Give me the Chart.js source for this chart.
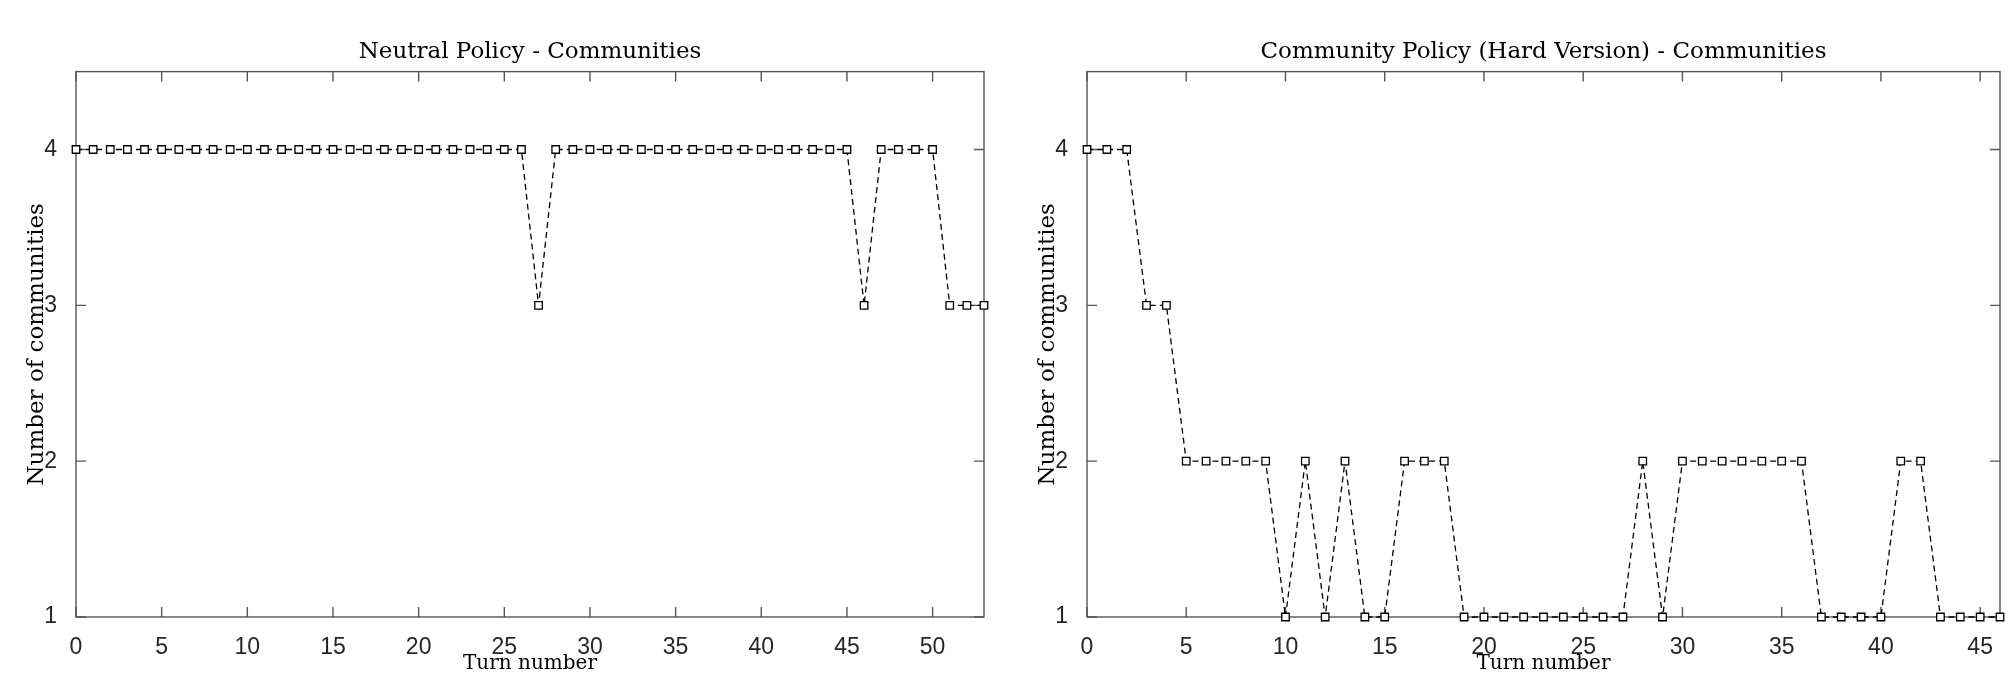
<!DOCTYPE html>
<html>
<head>
<meta charset="utf-8">
<script src="https://cdn.jsdelivr.net/npm/chart.js@4"></script>
<style>
  body { margin: 0; background: #fff; }
  .box { position: absolute; top: 0; height: 676px; }
</style>
</head>
<body>
<div class="box" style="left:0; width:1000px;"><canvas id="left"></canvas></div>
<div class="box" style="left:1000px; width:1010px;"><canvas id="right"></canvas></div>
<script>
// turn numbers and community counts
const neutralTurns = [0,1,2,3,4,5,6,7,8,9,10,11,12,13,14,15,16,17,18,19,20,21,22,23,24,25,26,27,28,29,30,31,32,33,34,35,36,37,38,39,40,41,42,43,44,45,46,47,48,49,50,51,52,53];
const neutralCommunities = [4,4,4,4,4,4,4,4,4,4,4,4,4,4,4,4,4,4,4,4,4,4,4,4,4,4,4,3,4,4,4,4,4,4,4,4,4,4,4,4,4,4,4,4,4,4,3,4,4,4,4,3,3,3];

const hardTurns = [0,1,2,3,4,5,6,7,8,9,10,11,12,13,14,15,16,17,18,19,20,21,22,23,24,25,26,27,28,29,30,31,32,33,34,35,36,37,38,39,40,41,42,43,44,45,46];
const hardCommunities = [4,4,4,3,3,2,2,2,2,2,1,2,1,2,1,1,2,2,2,1,1,1,1,1,1,1,1,1,2,1,2,2,2,2,2,2,2,1,1,1,1,2,2,1,1,1,1];

const neutralXTicks = [0,5,10,15,20,25,30,35,40,45,50];
const hardXTicks = [0,5,10,15,20,25,30,35,40,45];
const yTicks = [1,2,3,4];

const serif = "'DejaVu Serif', serif";
const sans = "'Liberation Sans', sans-serif";
const axisGray = '#555';

// box round the plot area with inward ticks on all four sides
const boxPlugin = {
  id: 'matlabBox',
  beforeDatasetsDraw(chart) {
    const {ctx, chartArea: a, scales} = chart;
    ctx.save();
    ctx.strokeStyle = axisGray;
    ctx.lineWidth = 1.4;
    ctx.strokeRect(a.left, a.top, a.right - a.left, a.bottom - a.top);
    const len = 10;
    ctx.beginPath();
    scales.x.ticks.forEach(t => {
      const px = scales.x.getPixelForValue(t.value);
      ctx.moveTo(px, a.bottom); ctx.lineTo(px, a.bottom - len);
      ctx.moveTo(px, a.top); ctx.lineTo(px, a.top + len);
    });
    scales.y.ticks.forEach(t => {
      const py = scales.y.getPixelForValue(t.value);
      ctx.moveTo(a.left, py); ctx.lineTo(a.left + len, py);
      ctx.moveTo(a.right, py); ctx.lineTo(a.right - len, py);
    });
    ctx.stroke();
    ctx.restore();
  }
};

function makeChart(id, title, turns, counts, xMax, xTicks, padLeft, padRight) {
  const points = turns.map((t, i) => ({x: t, y: counts[i]}));
  return new Chart(document.getElementById(id), {
    type: 'line',
    data: {
      datasets: [{
        data: points,
        borderColor: '#000',
        borderWidth: 1.3,
        borderDash: [6, 4],
        pointStyle: 'rect',
        pointRadius: 5.3,
        pointBorderWidth: 1.3,
        pointBackgroundColor: '#fff',
        pointBorderColor: '#000',
        tension: 0,
        clip: false
      }]
    },
    options: {
      responsive: true,
      maintainAspectRatio: false,
      animation: false,
      layout: { padding: { left: padLeft, right: padRight, top: 0, bottom: 0 } },
      plugins: {
        legend: { display: false },
        tooltip: { enabled: false },
        title: {
          display: true,
          text: title,
          fullSize: false,
          color: '#000',
          font: { family: serif, size: 23, weight: 'normal' },
          padding: { top: 38, bottom: 6 }
        }
      },
      scales: {
        x: {
          type: 'linear',
          min: 0,
          max: xMax,
          afterBuildTicks: s => { s.ticks = xTicks.map(v => ({value: v})); },
          afterFit: s => { s.height = 59; },
          grid: { display: false },
          border: { display: false },
          ticks: { color: '#262626', font: { family: sans, size: 23 }, padding: 9, maxRotation: 0 },
          title: { display: true, text: 'Turn number', color: '#000', font: { family: serif, size: 20 }, padding: 0 }
        },
        y: {
          min: 1,
          max: 4.5,
          afterBuildTicks: s => { s.ticks = yTicks.map(v => ({value: v})); },
          afterFit: s => { s.width = 53; },
          grid: { display: false },
          border: { display: false },
          ticks: { color: '#262626', font: { family: sans, size: 23 }, padding: 11 },
          title: { display: true, text: 'Number of communities', color: '#000', font: { family: serif, size: 23 }, padding: 0 }
        }
      }
    },
    plugins: [boxPlugin]
  });
}

makeChart('left', 'Neutral Policy - Communities', neutralTurns, neutralCommunities, 53, neutralXTicks, 23, 16);
makeChart('right', 'Community Policy (Hard Version) - Communities', hardTurns, hardCommunities, 46, hardXTicks, 34, 10);
</script>
</body>
</html>
